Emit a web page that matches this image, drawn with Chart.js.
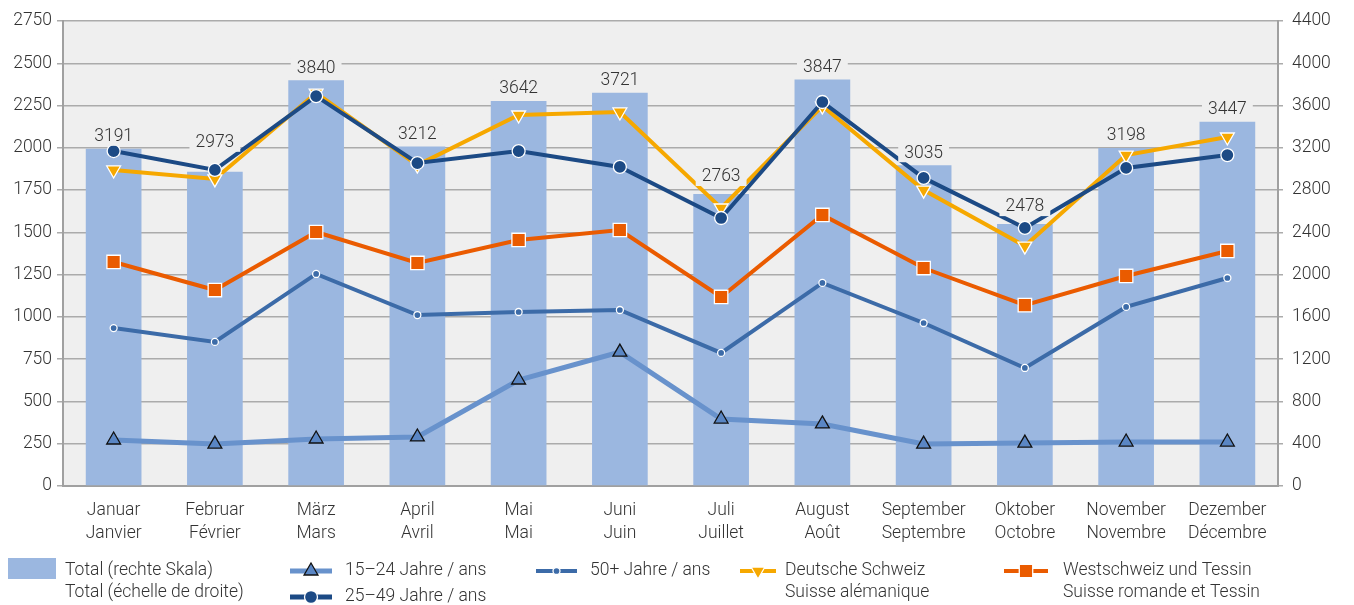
<!DOCTYPE html>
<html>
<head>
<meta charset="utf-8">
<script src="https://cdn.jsdelivr.net/npm/chart.js@4/dist/chart.umd.min.js"></script>
<style>
  html, body { margin: 0; padding: 0; background: #fff; }
  #wrap { width: 1354px; height: 605px; position: relative; }
</style>
</head>
<body>
<div id="wrap"><canvas id="chart" width="1354" height="605"></canvas></div>
<script>
// month labels (German / French)
const months = [
    ["Januar", "Janvier"], ["Februar", "Février"], ["März", "Mars"], ["April", "Avril"],
    ["Mai", "Mai"], ["Juni", "Juin"], ["Juli", "Juillet"], ["August", "Août"],
    ["September", "Septembre"], ["Oktober", "Octobre"], ["November", "Novembre"], ["Dezember", "Décembre"]
];

// total (right scale)
const total = [3191, 2973, 3840, 3212, 3642, 3721, 2763, 3847, 3035, 2478, 3198, 3447];

// left scale series
const age15to24 = [272, 248, 278, 290, 627, 792, 396, 367, 248, 254, 260, 260];
const age25to49 = [1981, 1869, 2306, 1910, 1981, 1887, 1585, 2271, 1822, 1526, 1881, 1957];
const age50plus = [934, 852, 1254, 1011, 1029, 1041, 787, 1201, 964, 698, 1059, 1230];
const deutscheSchweiz = [1869, 1816, 2324, 1898, 2194, 2212, 1644, 2247, 1750, 1419, 1957, 2064];
const westschweiz = [1325, 1159, 1502, 1319, 1455, 1514, 1118, 1603, 1289, 1070, 1242, 1390];

const FONT = "Roboto, 'DejaVu Sans', sans-serif";
const FONT_CSS = "300 17.5px " + FONT;
const TEXT = "#333333";
const GRID = "#ababab";
const PLOT_BG = "#efefef";

const colors = {
    total: "#9bb7e0",
    a1524: "#6892cc",
    a1524pt: "#5a86c4",
    a2549: "#1c4a85",
    a50: "#3c6ba8",
    deutsch: "#f6a800",
    west: "#ea5b00",
};

// grey plot background
const plotBg = {
    id: "plotBg",
    beforeDraw(chart) {
        const { ctx, chartArea: a } = chart;
        ctx.save();
        ctx.fillStyle = PLOT_BG;
        ctx.fillRect(a.left, a.top, a.right - a.left, a.bottom - a.top);
        ctx.restore();
    }
};

// value labels above the bars; a few are pushed up so they clear the lines
const barLabels = {
    id: "barLabels",
    afterDatasetsDraw(chart, args, opts) {
        const ctx = chart.ctx;
        const meta = chart.getDatasetMeta(0);
        const lift = opts.lift || [];
        ctx.save();
        ctx.font = FONT_CSS;
        ctx.textAlign = "center";
        ctx.textBaseline = "middle";
        meta.data.forEach((bar, i) => {
            const txt = String(total[i]);
            const w = ctx.measureText(txt).width;
            const y = bar.y - 13 - (lift[i] || 0);
            ctx.fillStyle = PLOT_BG;
            ctx.fillRect(bar.x - w / 2 - 6, y - 9, w + 12, 19);
            ctx.fillStyle = TEXT;
            ctx.fillText(txt, bar.x, y + 1);
        });
        ctx.restore();
    }
};

function marker(ctx, style, x, y, r, fill, stroke, lw) {
    ctx.save();
    ctx.fillStyle = fill;
    ctx.strokeStyle = stroke;
    ctx.lineWidth = lw;
    ctx.beginPath();
    if (style === "circle") {
        ctx.arc(x, y, r, 0, Math.PI * 2);
    } else if (style === "up") {
        const s = r * 0.866;
        ctx.moveTo(x, y - r);
        ctx.lineTo(x + s, y + r / 2);
        ctx.lineTo(x - s, y + r / 2);
        ctx.closePath();
    } else if (style === "down") {
        const s = r * 0.866;
        ctx.moveTo(x, y + r);
        ctx.lineTo(x + s, y - r / 2);
        ctx.lineTo(x - s, y - r / 2);
        ctx.closePath();
    } else if (style === "rect") {
        const s = r * Math.SQRT1_2;
        ctx.rect(x - s, y - s, 2 * s, 2 * s);
    }
    ctx.fill();
    ctx.stroke();
    ctx.restore();
}

// custom bottom legend
const bottomLegend = {
    id: "bottomLegend",
    afterDraw(chart) {
        const ctx = chart.ctx;
        ctx.save();
        ctx.font = FONT_CSS;
        ctx.textBaseline = "middle";
        ctx.textAlign = "left";

        function sample(x1, x2, y, color, lw, style, r, fill, stroke, blw) {
            ctx.save();
            ctx.strokeStyle = color;
            ctx.lineWidth = lw;
            ctx.beginPath();
            ctx.moveTo(x1, y);
            ctx.lineTo(x2, y);
            ctx.stroke();
            ctx.restore();
            marker(ctx, style, (x1 + x2) / 2, y, r, fill, stroke, blw);
        }
        function text(str, x, y) {
            ctx.fillStyle = TEXT;
            ctx.fillText(str, x, y);
        }

        ctx.fillStyle = colors.total;
        ctx.fillRect(8, 558, 48, 21);
        text("Total (rechte Skala)", 65, 571);
        text("Total (échelle de droite)", 65, 593);

        sample(290, 332, 571, colors.a1524, 5, "up", 8, colors.a1524pt, "#111", 1.3);
        text("15\u201324 Jahre / ans", 345, 571);
        sample(290, 332, 597, colors.a2549, 5, "circle", 6.5, colors.a2549, "#fff", 1.3);
        text("25\u201349 Jahre / ans", 345, 597);

        sample(536, 577, 571, colors.a50, 4, "circle", 3.5, colors.a50, "#fff", 1.3);
        text("50+ Jahre / ans", 590, 571);

        sample(740, 776, 571, colors.deutsch, 4, "down", 8, colors.deutsch, "#fff", 1.3);
        text("Deutsche Schweiz", 785, 571);
        text("Suisse alémanique", 785, 593);

        sample(1004, 1048, 571, colors.west, 4, "rect", 9.5, colors.west, "#fff", 1.3);
        text("Westschweiz und Tessin", 1063, 571);
        text("Suisse romande et Tessin", 1063, 593);
        ctx.restore();
    }
};

function lineSet(label, data, color, width, order, pt) {
    return Object.assign({
        type: "line",
        label: label,
        data: data,
        yAxisID: "y",
        borderColor: color,
        borderWidth: width,
        tension: 0,
        fill: false,
        order: order,
        pointBorderWidth: 1.3,
        pointHoverRadius: 0,
    }, pt);
}

const tickFont = { family: FONT, size: 17.5, weight: 300 };

const ctx = document.getElementById("chart").getContext("2d");
new Chart(ctx, {
    data: {
        labels: months,
        datasets: [
            {
                type: "bar",
                label: "Total",
                data: total,
                yAxisID: "y1",
                backgroundColor: colors.total,
                categoryPercentage: 1,
                barPercentage: 0.55,
                order: 10,
            },
            lineSet("15–24 Jahre / ans", age15to24, colors.a1524, 5, 5, {
                pointStyle: "triangle", pointRadius: 8,
                pointBackgroundColor: colors.a1524pt, pointBorderColor: "#111",
            }),
            lineSet("50+ Jahre / ans", age50plus, colors.a50, 4, 4, {
                pointStyle: "circle", pointRadius: 3.5,
                pointBackgroundColor: colors.a50, pointBorderColor: "#fff",
            }),
            lineSet("Westschweiz und Tessin", westschweiz, colors.west, 4, 3, {
                pointStyle: "rect", pointRadius: 9.5,
                pointBackgroundColor: colors.west, pointBorderColor: "#fff",
            }),
            lineSet("Deutsche Schweiz", deutscheSchweiz, colors.deutsch, 4, 2, {
                pointStyle: "triangle", pointRotation: 180, pointRadius: 8,
                pointBackgroundColor: colors.deutsch, pointBorderColor: "#fff",
            }),
            lineSet("25–49 Jahre / ans", age25to49, colors.a2549, 4, 1, {
                pointStyle: "circle", pointRadius: 6.5,
                pointBackgroundColor: colors.a2549, pointBorderColor: "#fff",
            }),
        ],
    },
    options: {
        responsive: false,
        animation: false,
        events: [],
        layout: { padding: { top: 21, bottom: 59, left: 0, right: 0 } },
        plugins: {
            legend: { display: false },
            tooltip: { enabled: false },
            barLabels: { lift: [0, 17, 0, 0, 0, 0, 5, 0, 0, 5, 0, 0] },
        },
        scales: {
            x: {
                offset: true,
                grid: { display: false },
                border: { display: true, color: "#a0a0a0", width: 2 },
                ticks: {
                    color: TEXT,
                    font: Object.assign({ lineHeight: 1.27 }, tickFont),
                    padding: 6,
                    maxRotation: 0,
                    autoSkip: false,
                },
                afterFit(scale) { scale.height = 60; },
            },
            y: {
                position: "left",
                min: 0,
                max: 2750,
                ticks: {
                    stepSize: 250,
                    color: TEXT,
                    font: tickFont,
                    padding: 5,
                    callback: v => String(v),
                },
                grid: { color: GRID, lineWidth: 1.5, tickLength: 6 },
                border: { display: true, color: "#a0a0a0", width: 2 },
                afterFit(scale) { scale.width = 63; },
            },
            y1: {
                position: "right",
                min: 0,
                max: 4400,
                ticks: {
                    stepSize: 400,
                    color: TEXT,
                    font: tickFont,
                    padding: 9,
                    callback: v => String(v),
                },
                grid: { drawOnChartArea: false, color: GRID, lineWidth: 1.5, tickLength: 5 },
                border: { display: true, color: "#a0a0a0", width: 2 },
                afterFit(scale) { scale.width = 76; },
            },
        },
    },
    plugins: [plotBg, barLabels, bottomLegend],
});
</script>
</body>
</html>
